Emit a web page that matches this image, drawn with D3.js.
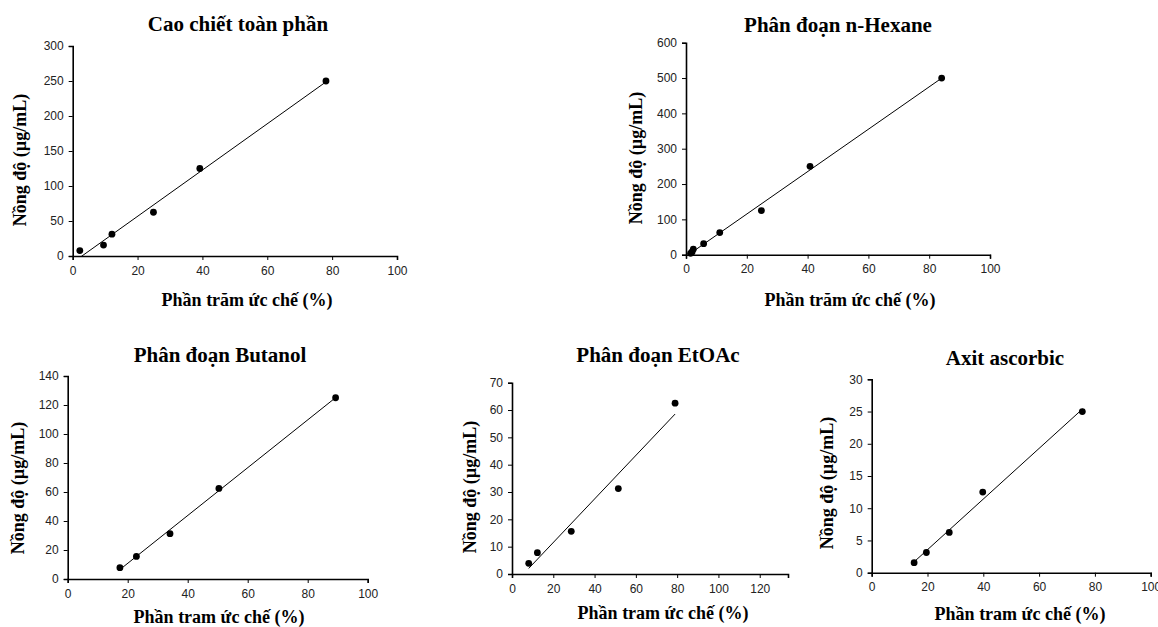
<html>
<head>
<script src="https://d3js.org/d3.v7.min.js"></script>
<style>
    body { margin: 0; background: #fff; }
    .title { font-family: 'Liberation Serif', 'Times New Roman', serif; font-weight: bold; font-size: 21px; }
    .label { font-family: 'Liberation Serif', 'Times New Roman', serif; font-weight: bold; font-size: 18px; }
    .tick text { font-family: 'Liberation Sans', Arial, sans-serif; font-size: 12px; fill: #222; }
    .domain { stroke: #000; stroke-width: 1.6px; }
    .tick line { stroke: #000; }
</style>
</head>
<body>
<svg id="chart" width="1158" height="627"></svg>
<script>
    // data
    const titles = ['Cao chiết toàn phần', 'Phân đoạn n-Hexane', 'Phân đoạn Butanol', 'Phân đoạn EtOAc', 'Axit ascorbic'];
    const xLabels = ['Phần trăm ức chế (%)', 'Phần trăm ức chế (%)', 'Phần tram ức chế (%)', 'Phần tram ức chế (%)', 'Phần tram ức chế (%)'];
    const yLabel = 'Nồng độ (µg/mL)';

    const caoX = [2.2, 9.5, 12.1, 24.9, 39.2, 78.1];
    const caoY = [7.8, 15.6, 31.25, 62.5, 125, 250];
    const hexX = [1.5, 2.0, 2.4, 5.8, 11.1, 24.8, 40.8, 84.1];
    const hexY = [3.9, 7.8, 15.6, 31.25, 62.5, 125, 250, 500];
    const butX = [17.4, 22.9, 34.1, 50.4, 89.3];
    const butY = [7.8, 15.6, 31.25, 62.5, 125];
    const etoX = [8.1, 12.3, 28.7, 51.5, 79.0];
    const etoY = [3.9, 7.8, 15.6, 31.25, 62.5];
    const ascX = [15.2, 19.6, 27.8, 39.8, 75.5];
    const ascY = [1.56, 3.13, 6.25, 12.5, 25];

    const xMax = [100, 100, 100, 133.7, 100];
    const yMax = [300, 600, 140, 70, 30];
    const yStep = [50, 100, 20, 10, 5];
    const xTicks = [[0, 20, 40, 60, 80, 100], [0, 20, 40, 60, 80, 100], [0, 20, 40, 60, 80, 100],
                    [0, 20, 40, 60, 80, 100, 120], [0, 20, 40, 60, 80, 100]];

    const seriesX = [caoX, hexX, butX, etoX, ascX];
    const seriesY = [caoY, hexY, butY, etoY, ascY];

    // plot boxes [left, top, right, bottom] and text spots
    const boxes = [
        [72.7, 46, 397, 256],
        [686, 42.7, 990, 254.7],
        [67.7, 376, 367.7, 579],
        [512, 382.7, 788, 574],
        [871.7, 379.3, 1150.7, 572.7]
    ];
    const titlePos = [[238, 31], [838, 32], [220, 362], [658, 362], [1005, 365]];
    const xLabelPos = [[247, 306], [850, 306], [219, 623], [663, 619], [1020, 620]];
    const yLabelPos = [[26, 160], [642, 158], [24, 488], [476, 487], [833, 483]];

    const svg = d3.select('#chart');

    function fit(xs, ys) {
        const mx = d3.mean(xs), my = d3.mean(ys);
        let sxy = 0, sxx = 0;
        xs.forEach((x, i) => { sxy += (x - mx) * (ys[i] - my); sxx += (x - mx) * (x - mx); });
        const a = sxy / sxx;
        return { a: a, b: my - a * mx };
    }

    titles.forEach((t, k) => {
        const [l, tp, r, bt] = boxes[k];
        const x = d3.scaleLinear().domain([0, xMax[k]]).range([l, r]);
        const y = d3.scaleLinear().domain([0, yMax[k]]).range([bt, tp]);
        const g = svg.append('g');

        const clipId = 'clip' + k;
        svg.append('clipPath').attr('id', clipId)
            .append('rect').attr('x', l).attr('y', tp).attr('width', r - l).attr('height', bt - tp);

        g.append('g')
            .attr('transform', `translate(0,${bt})`)
            .call(d3.axisBottom(x).tickValues(xTicks[k]).tickSize(4).tickPadding(6).tickFormat(d3.format('d')));

        g.append('g')
            .attr('transform', `translate(${l},0)`)
            .call(d3.axisLeft(y).tickValues(d3.range(0, yMax[k] + 0.001, yStep[k])).tickSize(4).tickPadding(5).tickFormat(d3.format('d')));

        // linear trendline across the data range
        const xs = seriesX[k], ys = seriesY[k];
        const f = fit(xs, ys);
        const x0 = d3.min(xs), x1 = d3.max(xs);
        g.append('line')
            .attr('clip-path', `url(#${clipId})`)
            .attr('x1', x(x0)).attr('y1', y(f.a * x0 + f.b))
            .attr('x2', x(x1)).attr('y2', y(f.a * x1 + f.b))
            .attr('stroke', '#000').attr('stroke-width', 1);

        g.selectAll('circle')
            .data(xs.map((v, i) => [v, ys[i]]))
            .join('circle')
            .attr('cx', d => x(d[0]))
            .attr('cy', d => y(d[1]))
            .attr('r', 3.4)
            .attr('fill', '#000');

        svg.append('text').attr('class', 'title')
            .attr('x', titlePos[k][0]).attr('y', titlePos[k][1])
            .attr('text-anchor', 'middle').text(t);

        svg.append('text').attr('class', 'label')
            .attr('x', xLabelPos[k][0]).attr('y', xLabelPos[k][1])
            .attr('text-anchor', 'middle').text(xLabels[k]);

        svg.append('text').attr('class', 'label')
            .attr('transform', `translate(${yLabelPos[k][0]},${yLabelPos[k][1]}) rotate(-90)`)
            .attr('text-anchor', 'middle').text(yLabel);
    });
</script>
</body>
</html>
